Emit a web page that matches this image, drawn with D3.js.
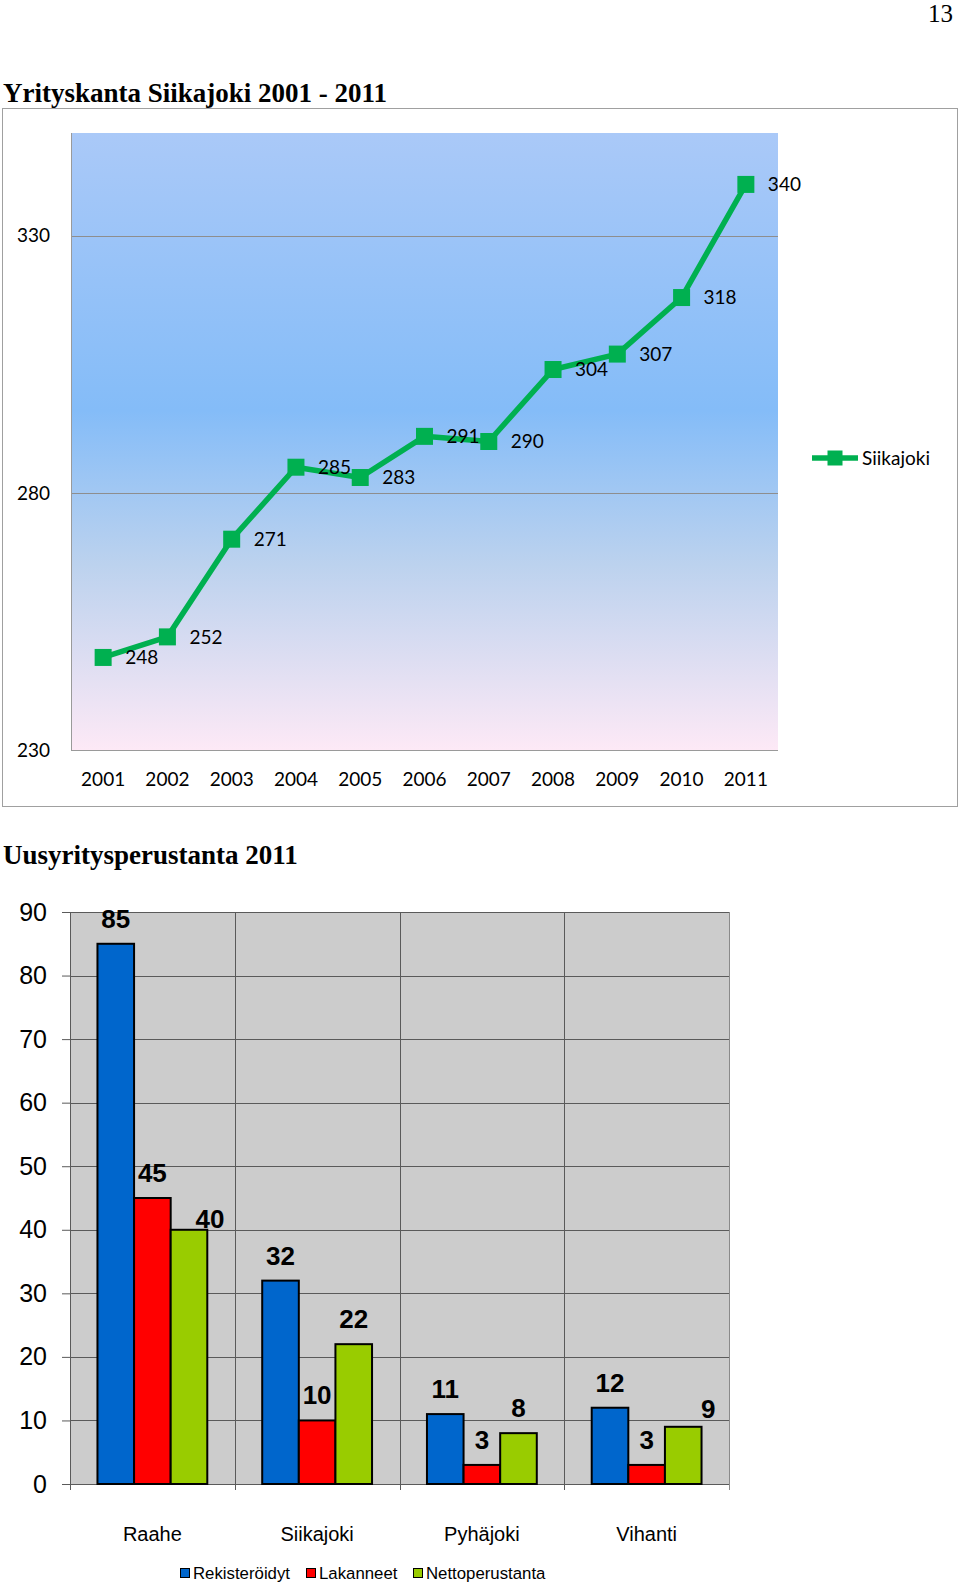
<!DOCTYPE html>
<html>
<head>
<meta charset="utf-8">
<script src="https://cdn.jsdelivr.net/npm/d3@7"></script>
<style>
  body { margin: 0; background: #fff; }
  svg { display: block; }
</style>
</head>
<body>
<div class="canva"></div>
<script>
//Line chart data
const years = ["2001", "2002", "2003", "2004", "2005", "2006", "2007", "2008", "2009", "2010", "2011"];
const siikajokiCount = [248, 252, 271, 285, 283, 291, 290, 304, 307, 318, 340];
const lineTicks = [230, 280, 330];

//Bar chart data
const municipalities = ["Raahe", "Siikajoki", "Pyhäjoki", "Vihanti"];
const seriesNames = ["Rekisteröidyt", "Lakanneet", "Nettoperustanta"];
const registered = [85, 32, 11, 12];
const closed = [45, 10, 3, 3];
const netFounded = [40, 22, 8, 9];
const barTicks = [0, 10, 20, 30, 40, 50, 60, 70, 80, 90];

const canvas = d3.select(".canva");

const svg = canvas.append("svg")
            .attr("width", 960)
            .attr("height", 1583);

const serif = "'Liberation Serif', 'Times New Roman', serif";
const sans = "'Liberation Sans', Arial, sans-serif";
const calib = "Lato, 'Open Sans', sans-serif";

//page number
svg.append("text")
    .attr("x", 953)
    .attr("y", 22)
    .attr("text-anchor", "end")
    .style("font-family", serif)
    .style("font-size", "25px")
    .text("13");

// ---------------- Line chart ----------------
svg.append("text")
    .attr("x", 3)
    .attr("y", 102)
    .style("font-family", serif)
    .style("font-weight", "bold")
    .style("font-size", "27px")
    .text("Yrityskanta Siikajoki 2001 - 2011");

svg.append("rect")
    .attr("x", 2.5).attr("y", 108.5)
    .attr("width", 955).attr("height", 698)
    .attr("fill", "none")
    .attr("stroke", "#a0a0a0");

const grad = svg.append("defs").append("linearGradient")
            .attr("id", "bg")
            .attr("x1", 0).attr("y1", 0)
            .attr("x2", 0).attr("y2", 1);
grad.append("stop").attr("offset", "0%").attr("stop-color", "#aac9f8");
grad.append("stop").attr("offset", "45%").attr("stop-color", "#84bcf8");
grad.append("stop").attr("offset", "70%").attr("stop-color", "#bcd2ee");
grad.append("stop").attr("offset", "100%").attr("stop-color", "#fde9f6");

const lp = {left: 71, right: 778, top: 133, bottom: 750};

const xLine = d3.scaleBand()
            .domain(years)
            .range([lp.left, lp.right]);
const yLine = d3.scaleLinear()
            .domain([230, 350])
            .range([lp.bottom, lp.top]);

const lineG = svg.append("g");

lineG.append("rect")
    .attr("x", lp.left).attr("y", lp.top)
    .attr("width", lp.right - lp.left)
    .attr("height", lp.bottom - lp.top)
    .attr("fill", "url(#bg)");

//gridlines
lineG.selectAll(".grid")
    .data(lineTicks.slice(1))
    .enter()
    .append("line")
    .attr("x1", lp.left).attr("x2", lp.right)
    .attr("y1", d => Math.round(yLine(d)) + 0.5)
    .attr("y2", d => Math.round(yLine(d)) + 0.5)
    .attr("stroke", "#8e8e8e");

lineG.append("line")
    .attr("x1", lp.left + 0.5).attr("x2", lp.left + 0.5)
    .attr("y1", lp.top).attr("y2", lp.bottom)
    .attr("stroke", "#9a9a9a");
lineG.append("line")
    .attr("x1", lp.left).attr("x2", lp.right)
    .attr("y1", lp.bottom + 0.5).attr("y2", lp.bottom + 0.5)
    .attr("stroke", "#9a9a9a");

//axes
const yAxisLine = lineG.append("g")
    .attr("transform", `translate(${lp.left}, 0)`)
    .call(d3.axisLeft(yLine).tickValues(lineTicks).tickSize(0).tickPadding(21));
const xAxisLine = lineG.append("g")
    .attr("transform", `translate(0, ${lp.bottom})`)
    .call(d3.axisBottom(xLine).tickSize(0).tickPadding(23));
[yAxisLine, xAxisLine].forEach(a => {
  a.select(".domain").remove();
  a.selectAll("text")
    .style("font-family", calib)
    .style("font-size", "19px")
    .attr("fill", "#000");
});

const green = "#00b050";
const cx = (d, i) => xLine(years[i]) + xLine.bandwidth() / 2;

const line = d3.line()
            .x((d, i) => cx(d, i))
            .y(d => yLine(d));

lineG.append("path")
    .datum(siikajokiCount)
    .attr("d", line)
    .attr("fill", "none")
    .attr("stroke", green)
    .attr("stroke-width", 5.5)
    .attr("stroke-linejoin", "round");

lineG.selectAll(".marker")
    .data(siikajokiCount)
    .enter()
    .append("rect")
    .attr("x", (d, i) => cx(d, i) - 8.5)
    .attr("y", d => yLine(d) - 8.5)
    .attr("width", 17).attr("height", 17)
    .attr("fill", green);

lineG.selectAll(".lbl")
    .data(siikajokiCount)
    .enter()
    .append("text")
    .attr("x", (d, i) => cx(d, i) + 22)
    .attr("y", d => yLine(d))
    .attr("dy", "0.36em")
    .style("font-family", calib)
    .style("font-size", "19px")
    .text(d => d);

//legend
const lLeg = svg.append("g").attr("transform", "translate(812, 458)");
lLeg.append("line")
    .attr("x1", 0).attr("x2", 46)
    .attr("stroke", green).attr("stroke-width", 5.5);
lLeg.append("rect")
    .attr("x", 15.5).attr("y", -7.5)
    .attr("width", 15).attr("height", 15)
    .attr("fill", green);
lLeg.append("text")
    .attr("x", 50).attr("dy", "0.36em")
    .style("font-family", calib)
    .style("font-size", "19px")
    .text("Siikajoki");

// ---------------- Bar chart ----------------
svg.append("text")
    .attr("x", 3)
    .attr("y", 864)
    .style("font-family", serif)
    .style("font-weight", "bold")
    .style("font-size", "27px")
    .text("Uusyritysperustanta 2011");

const bp = {left: 70, right: 729, top: 912, bottom: 1484};
const barValues = [registered, closed, netFounded];
const barColors = ["#0066cc", "#ff0000", "#99cc00"];

const xBar = d3.scaleBand()
            .domain(municipalities)
            .range([bp.left, bp.right]);
const xSub = d3.scaleBand()
            .domain(seriesNames)
            .range([xBar.bandwidth() / 6, xBar.bandwidth() * 5 / 6]);
const yBar = d3.scaleLinear()
            .domain([0, 90])
            .range([bp.bottom, bp.top]);

const barG = svg.append("g");

barG.append("rect")
    .attr("x", bp.left).attr("y", bp.top)
    .attr("width", bp.right - bp.left)
    .attr("height", bp.bottom - bp.top)
    .attr("fill", "#cccccc");

//horizontal gridlines + tick labels
const yAxisBar = barG.append("g")
    .attr("transform", `translate(${bp.left}, 0)`)
    .call(d3.axisLeft(yBar).tickValues(barTicks).tickSize(8).tickPadding(15));
yAxisBar.select(".domain").remove();
yAxisBar.selectAll("line").attr("stroke", "#5a5a5a");
yAxisBar.selectAll("text")
    .style("font-family", sans)
    .style("font-size", "25px")
    .attr("fill", "#000");

barG.selectAll(".hgrid")
    .data(barTicks)
    .enter()
    .append("line")
    .attr("x1", bp.left).attr("x2", bp.right)
    .attr("y1", d => Math.round(yBar(d)) + 0.5)
    .attr("y2", d => Math.round(yBar(d)) + 0.5)
    .attr("stroke", "#5a5a5a");

//vertical category separators
const bounds = municipalities.map(m => xBar(m)).concat([bp.right]);
barG.selectAll(".vgrid")
    .data(bounds)
    .enter()
    .append("line")
    .attr("x1", d => Math.round(d) + 0.5)
    .attr("x2", d => Math.round(d) + 0.5)
    .attr("y1", bp.top)
    .attr("y2", bp.bottom + 6)
    .attr("stroke", (d, i) => i === bounds.length - 1 ? "#8a8a8a" : "#5a5a5a");

//bars
const nudge = {"Raahe|Nettoperustanta": [21, 14], "Vihanti|Nettoperustanta": [25, 7]};

seriesNames.forEach(function(s, si) {
  const g = barG.append("g");
  const rows = municipalities.map((m, mi) => ({m: m, v: barValues[si][mi]}));

  g.selectAll("rect")
    .data(rows)
    .enter()
    .append("rect")
    .attr("x", d => xBar(d.m) + xSub(s))
    .attr("y", d => yBar(d.v))
    .attr("width", xSub.bandwidth())
    .attr("height", d => yBar(0) - yBar(d.v))
    .attr("fill", barColors[si])
    .attr("stroke", "#000")
    .attr("stroke-width", 2);

  g.selectAll("text")
    .data(rows)
    .enter()
    .append("text")
    .attr("x", d => xBar(d.m) + xSub(s) + xSub.bandwidth() / 2 + (nudge[d.m + "|" + s] || [0, 0])[0])
    .attr("y", d => yBar(d.v) - 16 + (nudge[d.m + "|" + s] || [0, 0])[1])
    .attr("text-anchor", "middle")
    .style("font-family", sans)
    .style("font-weight", "bold")
    .style("font-size", "26px")
    .text(d => d.v);
});

//category labels
const xAxisBar = barG.append("g")
    .attr("transform", `translate(0, ${bp.bottom})`)
    .call(d3.axisBottom(xBar).tickSize(0).tickPadding(43));
xAxisBar.select(".domain").remove();
xAxisBar.selectAll("text")
    .style("font-family", sans)
    .style("font-size", "20px")
    .attr("fill", "#000");

//legend
const legX = [180, 306, 413];
const bLeg = svg.append("g").attr("transform", "translate(0, 1573)");
const item = bLeg.selectAll("g")
    .data(seriesNames)
    .enter()
    .append("g")
    .attr("transform", (d, i) => `translate(${legX[i]}, 0)`);
item.append("rect")
    .attr("x", 0.5).attr("y", -4.5)
    .attr("width", 9).attr("height", 9)
    .attr("fill", (d, i) => barColors[i])
    .attr("stroke", "#000");
item.append("text")
    .attr("x", 13)
    .attr("dy", "0.36em")
    .style("font-family", sans)
    .style("font-size", "16.8px")
    .text(d => d);
</script>
</body>
</html>
